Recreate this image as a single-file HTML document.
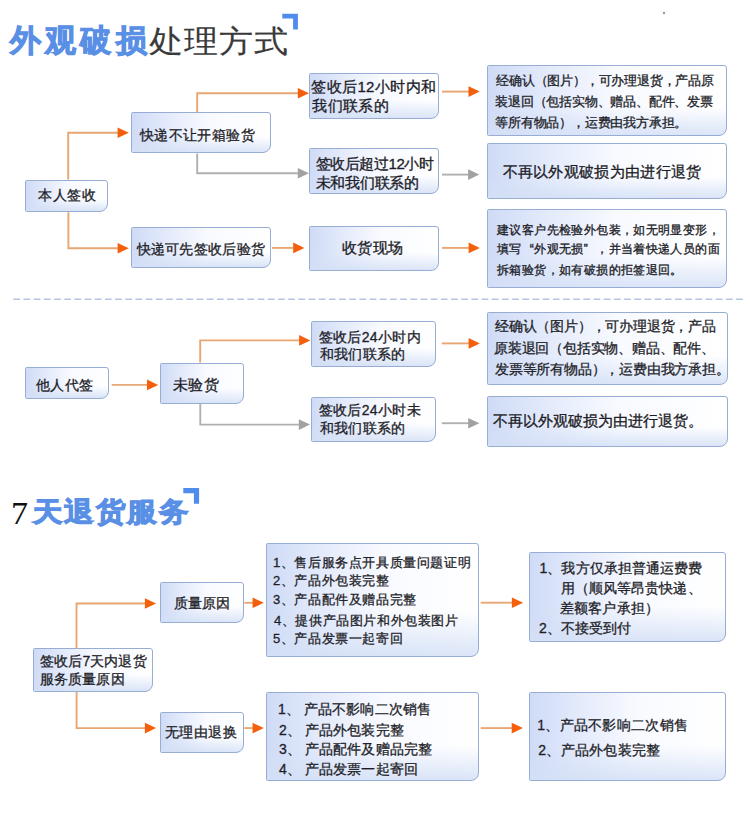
<!DOCTYPE html>
<html><head><meta charset="utf-8"><style>
html,body{margin:0;padding:0;background:#fff;}
body{width:750px;height:814px;position:relative;overflow:hidden;font-family:"Liberation Sans",sans-serif;color:#1e1e28;}
.b{position:absolute;box-sizing:border-box;border:1.6px solid #97add4;border-radius:1.5px 3px 8px 1.5px;
background:linear-gradient(180deg,rgba(255,255,255,0) 0%,rgba(255,255,255,0) 60%,rgba(212,224,246,.85) 100%),linear-gradient(90deg,#cfdbf6 0%,#e3eafb 25%,#f8faff 55%,#ffffff 100%);}
.t{position:absolute;white-space:nowrap;line-height:20px;height:20px;-webkit-text-stroke:0.45px #1e1e28;}
.c{display:inline-block;}
.h{position:absolute;white-space:nowrap;line-height:40px;height:40px;font-size:34px;}
.bl{color:#5a8fe6;font-weight:bold;-webkit-text-stroke:1.05px #5a8fe6;}
.dk{color:#3a3a3a;-webkit-text-stroke:0.15px #3a3a3a;}
svg{position:absolute;left:0;top:0;}
</style></head><body>
<div class="h bl" style="left:9.7px;top:21px;font-size:31px;letter-spacing:4.3px;line-height:40px;"><span class="c" style="width:35.3px">外</span><span class="c" style="width:35.3px">观</span><span class="c" style="width:35.3px">破</span><span class="c" style="width:35.3px">损</span></div>
<div class="h dk" style="left:149px;top:22px;font-size:31px;letter-spacing:4px;line-height:40px;"><span class="c" style="transform:scaleX(1.1);transform-origin:0 0;width:35px">处</span><span class="c" style="transform:scaleX(1.1);transform-origin:0 0;width:35px">理</span><span class="c" style="transform:scaleX(1.1);transform-origin:0 0;width:35px">方</span><span class="c" style="transform:scaleX(1.1);transform-origin:0 0;width:35px">式</span></div>
<div class="h" style="left:11.3px;top:493.75px;font-family:'Liberation Serif',serif;color:#111;font-size:31px;line-height:40px;transform:scaleX(1.1);transform-origin:0 0;">7</div>
<div class="h bl" style="left:32.9px;top:492px;font-size:27px;letter-spacing:4.5px;-webkit-text-stroke-width:1.1px;line-height:40px;"><span class="c" style="transform:scaleX(1.09);transform-origin:0 0;width:31.5px">天</span><span class="c" style="transform:scaleX(1.09);transform-origin:0 0;width:31.5px">退</span><span class="c" style="transform:scaleX(1.09);transform-origin:0 0;width:31.5px">货</span><span class="c" style="transform:scaleX(1.09);transform-origin:0 0;width:31.5px">服</span><span class="c" style="transform:scaleX(1.09);transform-origin:0 0;width:31.5px">务</span></div>
<div class="b" style="left:25.4px;top:179.5px;width:83px;height:32.7px;"></div>
<div class="b" style="left:130.6px;top:112.3px;width:140px;height:41.1px;"></div>
<div class="b" style="left:308.8px;top:73.1px;width:130px;height:46.4px;"></div>
<div class="b" style="left:309.2px;top:148px;width:129.8px;height:46px;"></div>
<div class="b" style="left:486.8px;top:65.1px;width:240.6px;height:70.9px;"></div>
<div class="b" style="left:486.8px;top:143.2px;width:240.6px;height:55.4px;"></div>
<div class="b" style="left:130.7px;top:227.3px;width:140px;height:40.8px;"></div>
<div class="b" style="left:309.2px;top:225.5px;width:129.4px;height:45.8px;"></div>
<div class="b" style="left:486.8px;top:209.4px;width:240.6px;height:78.9px;"></div>
<div class="b" style="left:25.2px;top:367.2px;width:83.4px;height:32px;"></div>
<div class="b" style="left:159.5px;top:362.6px;width:84.2px;height:41.2px;"></div>
<div class="b" style="left:311.3px;top:321.1px;width:124.7px;height:45.9px;"></div>
<div class="b" style="left:311.3px;top:396.5px;width:124.7px;height:45.8px;"></div>
<div class="b" style="left:486.8px;top:312.3px;width:240.8px;height:72.8px;"></div>
<div class="b" style="left:486.8px;top:396px;width:240.8px;height:50.7px;"></div>
<div class="b" style="left:33.2px;top:648.4px;width:119.5px;height:43.4px;"></div>
<div class="b" style="left:159.6px;top:582px;width:84px;height:41.3px;"></div>
<div class="b" style="left:266.4px;top:542.7px;width:213px;height:114px;"></div>
<div class="b" style="left:159.6px;top:712.1px;width:84px;height:40.8px;"></div>
<div class="b" style="left:266.4px;top:692.3px;width:213px;height:88.4px;"></div>
<div class="b" style="left:529.4px;top:551.9px;width:197.1px;height:89.7px;"></div>
<div class="b" style="left:529.4px;top:691.6px;width:197.1px;height:89.2px;"></div>
<div class="t" style="left:38px;top:185.1px;font-size:14px;letter-spacing:0.5px;-webkit-text-stroke-width:0.3px"><span class="c" style="width:14.5px">本</span><span class="c" style="width:14.5px">人</span><span class="c" style="width:14.5px">签</span><span class="c" style="width:14.5px">收</span></div>
<div class="t" style="left:139.9px;top:124.6px;font-size:14px;letter-spacing:0.4px;-webkit-text-stroke-width:0.3px"><span class="c" style="width:14.4px">快</span><span class="c" style="width:14.4px">递</span><span class="c" style="width:14.4px">不</span><span class="c" style="width:14.4px">让</span><span class="c" style="width:14.4px">开</span><span class="c" style="width:14.4px">箱</span><span class="c" style="width:14.4px">验</span><span class="c" style="width:14.4px">货</span></div>
<div class="t" style="left:311.4px;top:77.1px;font-size:15px;letter-spacing:0.35px;-webkit-text-stroke-width:0.32px"><span class="c" style="width:15.35px">签</span><span class="c" style="width:15.35px">收</span><span class="c" style="width:15.35px">后</span>12<span class="c" style="width:15.35px">小</span><span class="c" style="width:15.35px">时</span><span class="c" style="width:15.35px">内</span><span class="c" style="width:15.35px">和</span></div>
<div class="t" style="left:312.4px;top:95.8px;font-size:15px;letter-spacing:0.35px;-webkit-text-stroke-width:0.32px"><span class="c" style="width:15.35px">我</span><span class="c" style="width:15.35px">们</span><span class="c" style="width:15.35px">联</span><span class="c" style="width:15.35px">系</span><span class="c" style="width:15.35px">的</span></div>
<div class="t" style="left:315.6px;top:153.95px;font-size:15px;letter-spacing:-0.4px;-webkit-text-stroke-width:0.32px"><span class="c" style="width:14.6px">签</span><span class="c" style="width:14.6px">收</span><span class="c" style="width:14.6px">后</span><span class="c" style="width:14.6px">超</span><span class="c" style="width:14.6px">过</span>12<span class="c" style="width:14.6px">小</span><span class="c" style="width:14.6px">时</span></div>
<div class="t" style="left:315.6px;top:172.95px;font-size:15px;letter-spacing:-0.25px;-webkit-text-stroke-width:0.32px"><span class="c" style="width:14.75px">未</span><span class="c" style="width:14.75px">和</span><span class="c" style="width:14.75px">我</span><span class="c" style="width:14.75px">们</span><span class="c" style="width:14.75px">联</span><span class="c" style="width:14.75px">系</span><span class="c" style="width:14.75px">的</span></div>
<div class="t" style="left:496.2px;top:70.95px;font-size:13px;letter-spacing:-0.2px;-webkit-text-stroke-width:0.3px"><span class="c" style="width:12.8px">经</span><span class="c" style="width:12.8px">确</span><span class="c" style="width:12.8px">认</span><span class="c" style="width:12.8px">（</span><span class="c" style="width:12.8px">图</span><span class="c" style="width:12.8px">片</span><span class="c" style="width:12.8px">）</span><span class="c" style="width:12.8px">，</span><span class="c" style="width:12.8px">可</span><span class="c" style="width:12.8px">办</span><span class="c" style="width:12.8px">理</span><span class="c" style="width:12.8px">退</span><span class="c" style="width:12.8px">货</span><span class="c" style="width:12.8px">，</span><span class="c" style="width:12.8px">产</span><span class="c" style="width:12.8px">品</span><span class="c" style="width:12.8px">原</span></div>
<div class="t" style="left:495.2px;top:91.6px;font-size:13px;letter-spacing:-0.2px;-webkit-text-stroke-width:0.3px"><span class="c" style="width:12.8px">装</span><span class="c" style="width:12.8px">退</span><span class="c" style="width:12.8px">回</span><span class="c" style="width:12.8px">（</span><span class="c" style="width:12.8px">包</span><span class="c" style="width:12.8px">括</span><span class="c" style="width:12.8px">实</span><span class="c" style="width:12.8px">物</span><span class="c" style="width:12.8px">、</span><span class="c" style="width:12.8px">赠</span><span class="c" style="width:12.8px">品</span><span class="c" style="width:12.8px">、</span><span class="c" style="width:12.8px">配</span><span class="c" style="width:12.8px">件</span><span class="c" style="width:12.8px">、</span><span class="c" style="width:12.8px">发</span><span class="c" style="width:12.8px">票</span></div>
<div class="t" style="left:495.2px;top:113.2px;font-size:13px;letter-spacing:-0.2px;-webkit-text-stroke-width:0.3px"><span class="c" style="width:12.8px">等</span><span class="c" style="width:12.8px">所</span><span class="c" style="width:12.8px">有</span><span class="c" style="width:12.8px">物</span><span class="c" style="width:12.8px">品</span><span class="c" style="width:12.8px">）</span><span class="c" style="width:12.8px">，</span><span class="c" style="width:12.8px">运</span><span class="c" style="width:12.8px">费</span><span class="c" style="width:12.8px">由</span><span class="c" style="width:12.8px">我</span><span class="c" style="width:12.8px">方</span><span class="c" style="width:12.8px">承</span><span class="c" style="width:12.8px">担</span><span class="c" style="width:12.8px">。</span></div>
<div class="t" style="left:502.6px;top:162.4px;font-size:15px;letter-spacing:0.3px;-webkit-text-stroke-width:0.32px"><span class="c" style="width:15.3px">不</span><span class="c" style="width:15.3px">再</span><span class="c" style="width:15.3px">以</span><span class="c" style="width:15.3px">外</span><span class="c" style="width:15.3px">观</span><span class="c" style="width:15.3px">破</span><span class="c" style="width:15.3px">损</span><span class="c" style="width:15.3px">为</span><span class="c" style="width:15.3px">由</span><span class="c" style="width:15.3px">进</span><span class="c" style="width:15.3px">行</span><span class="c" style="width:15.3px">退</span><span class="c" style="width:15.3px">货</span></div>
<div class="t" style="left:136.5px;top:238.55px;font-size:14px;letter-spacing:0.3px;-webkit-text-stroke-width:0.3px"><span class="c" style="width:14.3px">快</span><span class="c" style="width:14.3px">递</span><span class="c" style="width:14.3px">可</span><span class="c" style="width:14.3px">先</span><span class="c" style="width:14.3px">签</span><span class="c" style="width:14.3px">收</span><span class="c" style="width:14.3px">后</span><span class="c" style="width:14.3px">验</span><span class="c" style="width:14.3px">货</span></div>
<div class="t" style="left:342.2px;top:237.6px;font-size:15px;letter-spacing:0.3px;-webkit-text-stroke-width:0.32px"><span class="c" style="width:15.3px">收</span><span class="c" style="width:15.3px">货</span><span class="c" style="width:15.3px">现</span><span class="c" style="width:15.3px">场</span></div>
<div class="t" style="left:497px;top:220px;font-size:12px;letter-spacing:0.4px;-webkit-text-stroke-width:0.32px"><span class="c" style="width:12.4px">建</span><span class="c" style="width:12.4px">议</span><span class="c" style="width:12.4px">客</span><span class="c" style="width:12.4px">户</span><span class="c" style="width:12.4px">先</span><span class="c" style="width:12.4px">检</span><span class="c" style="width:12.4px">验</span><span class="c" style="width:12.4px">外</span><span class="c" style="width:12.4px">包</span><span class="c" style="width:12.4px">装</span><span class="c" style="width:12.4px">，</span><span class="c" style="width:12.4px">如</span><span class="c" style="width:12.4px">无</span><span class="c" style="width:12.4px">明</span><span class="c" style="width:12.4px">显</span><span class="c" style="width:12.4px">变</span><span class="c" style="width:12.4px">形</span><span class="c" style="width:12.4px">，</span></div>
<div class="t" style="left:497px;top:239.4px;font-size:12px;letter-spacing:0.4px;-webkit-text-stroke-width:0.32px"><span class="c" style="width:12.4px">填</span><span class="c" style="width:12.4px">写</span><span class="c" style="width:12.4px;text-align:right">“</span><span class="c" style="width:12.4px">外</span><span class="c" style="width:12.4px">观</span><span class="c" style="width:12.4px">无</span><span class="c" style="width:12.4px">损</span><span class="c" style="width:12.4px">”</span><span class="c" style="width:12.4px">，</span><span class="c" style="width:12.4px">并</span><span class="c" style="width:12.4px">当</span><span class="c" style="width:12.4px">着</span><span class="c" style="width:12.4px">快</span><span class="c" style="width:12.4px">递</span><span class="c" style="width:12.4px">人</span><span class="c" style="width:12.4px">员</span><span class="c" style="width:12.4px">的</span><span class="c" style="width:12.4px">面</span></div>
<div class="t" style="left:497px;top:260px;font-size:12px;letter-spacing:0.4px;-webkit-text-stroke-width:0.32px"><span class="c" style="width:12.4px">拆</span><span class="c" style="width:12.4px">箱</span><span class="c" style="width:12.4px">验</span><span class="c" style="width:12.4px">货</span><span class="c" style="width:12.4px">，</span><span class="c" style="width:12.4px">如</span><span class="c" style="width:12.4px">有</span><span class="c" style="width:12.4px">破</span><span class="c" style="width:12.4px">损</span><span class="c" style="width:12.4px">的</span><span class="c" style="width:12.4px">拒</span><span class="c" style="width:12.4px">签</span><span class="c" style="width:12.4px">退</span><span class="c" style="width:12.4px">回</span><span class="c" style="width:12.4px">。</span></div>
<div class="t" style="left:36px;top:374.85px;font-size:14px;letter-spacing:0.4px;-webkit-text-stroke-width:0.3px"><span class="c" style="width:14.4px">他</span><span class="c" style="width:14.4px">人</span><span class="c" style="width:14.4px">代</span><span class="c" style="width:14.4px">签</span></div>
<div class="t" style="left:173.3px;top:374.75px;font-size:15px;letter-spacing:0.2px;-webkit-text-stroke-width:0.32px"><span class="c" style="width:15.2px">未</span><span class="c" style="width:15.2px">验</span><span class="c" style="width:15.2px">货</span></div>
<div class="t" style="left:318.5px;top:327.2px;font-size:14px;letter-spacing:0.4px;-webkit-text-stroke-width:0.3px"><span class="c" style="width:14.4px">签</span><span class="c" style="width:14.4px">收</span><span class="c" style="width:14.4px">后</span>24<span class="c" style="width:14.4px">小</span><span class="c" style="width:14.4px">时</span><span class="c" style="width:14.4px">内</span></div>
<div class="t" style="left:319.5px;top:344.15px;font-size:14px;letter-spacing:0.4px;-webkit-text-stroke-width:0.3px"><span class="c" style="width:14.4px">和</span><span class="c" style="width:14.4px">我</span><span class="c" style="width:14.4px">们</span><span class="c" style="width:14.4px">联</span><span class="c" style="width:14.4px">系</span><span class="c" style="width:14.4px">的</span></div>
<div class="t" style="left:318.5px;top:400px;font-size:14px;letter-spacing:0.4px;-webkit-text-stroke-width:0.3px"><span class="c" style="width:14.4px">签</span><span class="c" style="width:14.4px">收</span><span class="c" style="width:14.4px">后</span>24<span class="c" style="width:14.4px">小</span><span class="c" style="width:14.4px">时</span><span class="c" style="width:14.4px">未</span></div>
<div class="t" style="left:319.5px;top:418.1px;font-size:14px;letter-spacing:0.4px;-webkit-text-stroke-width:0.3px"><span class="c" style="width:14.4px">和</span><span class="c" style="width:14.4px">我</span><span class="c" style="width:14.4px">们</span><span class="c" style="width:14.4px">联</span><span class="c" style="width:14.4px">系</span><span class="c" style="width:14.4px">的</span></div>
<div class="t" style="left:495px;top:316px;font-size:14px;letter-spacing:-0.2px;-webkit-text-stroke-width:0.3px"><span class="c" style="width:13.8px">经</span><span class="c" style="width:13.8px">确</span><span class="c" style="width:13.8px">认</span><span class="c" style="width:13.8px">（</span><span class="c" style="width:13.8px">图</span><span class="c" style="width:13.8px">片</span><span class="c" style="width:13.8px">）</span><span class="c" style="width:13.8px">，</span><span class="c" style="width:13.8px">可</span><span class="c" style="width:13.8px">办</span><span class="c" style="width:13.8px">理</span><span class="c" style="width:13.8px">退</span><span class="c" style="width:13.8px">货</span><span class="c" style="width:13.8px">，</span><span class="c" style="width:13.8px">产</span><span class="c" style="width:13.8px">品</span></div>
<div class="t" style="left:494px;top:338.2px;font-size:14px;letter-spacing:-0.2px;-webkit-text-stroke-width:0.3px"><span class="c" style="width:13.8px">原</span><span class="c" style="width:13.8px">装</span><span class="c" style="width:13.8px">退</span><span class="c" style="width:13.8px">回</span><span class="c" style="width:13.8px">（</span><span class="c" style="width:13.8px">包</span><span class="c" style="width:13.8px">括</span><span class="c" style="width:13.8px">实</span><span class="c" style="width:13.8px">物</span><span class="c" style="width:13.8px">、</span><span class="c" style="width:13.8px">赠</span><span class="c" style="width:13.8px">品</span><span class="c" style="width:13.8px">、</span><span class="c" style="width:13.8px">配</span><span class="c" style="width:13.8px">件</span><span class="c" style="width:13.8px">、</span></div>
<div class="t" style="left:495px;top:359.2px;font-size:14px;letter-spacing:-0.2px;-webkit-text-stroke-width:0.3px"><span class="c" style="width:13.8px">发</span><span class="c" style="width:13.8px">票</span><span class="c" style="width:13.8px">等</span><span class="c" style="width:13.8px">所</span><span class="c" style="width:13.8px">有</span><span class="c" style="width:13.8px">物</span><span class="c" style="width:13.8px">品</span><span class="c" style="width:13.8px">）</span><span class="c" style="width:13.8px">，</span><span class="c" style="width:13.8px">运</span><span class="c" style="width:13.8px">费</span><span class="c" style="width:13.8px">由</span><span class="c" style="width:13.8px">我</span><span class="c" style="width:13.8px">方</span><span class="c" style="width:13.8px">承</span><span class="c" style="width:13.8px">担</span><span class="c" style="width:13.8px">。</span></div>
<div class="t" style="left:493.4px;top:410.9px;font-size:15px;letter-spacing:0px;-webkit-text-stroke-width:0.32px"><span class="c" style="width:15px">不</span><span class="c" style="width:15px">再</span><span class="c" style="width:15px">以</span><span class="c" style="width:15px">外</span><span class="c" style="width:15px">观</span><span class="c" style="width:15px">破</span><span class="c" style="width:15px">损</span><span class="c" style="width:15px">为</span><span class="c" style="width:15px">由</span><span class="c" style="width:15px">进</span><span class="c" style="width:15px">行</span><span class="c" style="width:15px">退</span><span class="c" style="width:15px">货</span><span class="c" style="width:15px">。</span></div>
<div class="t" style="left:40.1px;top:650.55px;font-size:14px;letter-spacing:0.1px;-webkit-text-stroke-width:0.3px"><span class="c" style="width:14.1px">签</span><span class="c" style="width:14.1px">收</span><span class="c" style="width:14.1px">后</span>7<span class="c" style="width:14.1px">天</span><span class="c" style="width:14.1px">内</span><span class="c" style="width:14.1px">退</span><span class="c" style="width:14.1px">货</span></div>
<div class="t" style="left:40.1px;top:669.15px;font-size:14px;letter-spacing:0.1px;-webkit-text-stroke-width:0.3px"><span class="c" style="width:14.1px">服</span><span class="c" style="width:14.1px">务</span><span class="c" style="width:14.1px">质</span><span class="c" style="width:14.1px">量</span><span class="c" style="width:14.1px">原</span><span class="c" style="width:14.1px">因</span></div>
<div class="t" style="left:173.6px;top:592.7px;font-size:14px;letter-spacing:0.2px;-webkit-text-stroke-width:0.3px"><span class="c" style="width:14.2px">质</span><span class="c" style="width:14.2px">量</span><span class="c" style="width:14.2px">原</span><span class="c" style="width:14.2px">因</span></div>
<div class="t" style="left:164.6px;top:722.2px;font-size:14px;letter-spacing:0.6px;-webkit-text-stroke-width:0.3px"><span class="c" style="width:14.6px">无</span><span class="c" style="width:14.6px">理</span><span class="c" style="width:14.6px">由</span><span class="c" style="width:14.6px">退</span><span class="c" style="width:14.6px">换</span></div>
<div class="t" style="left:273px;top:553.4px;font-size:13px;letter-spacing:0.6px;-webkit-text-stroke-width:0.3px">1<span class="c" style="width:13.6px">、</span><span class="c" style="width:13.6px">售</span><span class="c" style="width:13.6px">后</span><span class="c" style="width:13.6px">服</span><span class="c" style="width:13.6px">务</span><span class="c" style="width:13.6px">点</span><span class="c" style="width:13.6px">开</span><span class="c" style="width:13.6px">具</span><span class="c" style="width:13.6px">质</span><span class="c" style="width:13.6px">量</span><span class="c" style="width:13.6px">问</span><span class="c" style="width:13.6px">题</span><span class="c" style="width:13.6px">证</span><span class="c" style="width:13.6px">明</span></div>
<div class="t" style="left:273px;top:571.3px;font-size:13px;letter-spacing:0.6px;-webkit-text-stroke-width:0.3px">2<span class="c" style="width:13.6px">、</span><span class="c" style="width:13.6px">产</span><span class="c" style="width:13.6px">品</span><span class="c" style="width:13.6px">外</span><span class="c" style="width:13.6px">包</span><span class="c" style="width:13.6px">装</span><span class="c" style="width:13.6px">完</span><span class="c" style="width:13.6px">整</span></div>
<div class="t" style="left:273px;top:590.4px;font-size:13px;letter-spacing:0.6px;-webkit-text-stroke-width:0.3px">3<span class="c" style="width:13.6px">、</span><span class="c" style="width:13.6px">产</span><span class="c" style="width:13.6px">品</span><span class="c" style="width:13.6px">配</span><span class="c" style="width:13.6px">件</span><span class="c" style="width:13.6px">及</span><span class="c" style="width:13.6px">赠</span><span class="c" style="width:13.6px">品</span><span class="c" style="width:13.6px">完</span><span class="c" style="width:13.6px">整</span></div>
<div class="t" style="left:274px;top:610.7px;font-size:13px;letter-spacing:0.6px;-webkit-text-stroke-width:0.3px">4<span class="c" style="width:13.6px">、</span><span class="c" style="width:13.6px">提</span><span class="c" style="width:13.6px">供</span><span class="c" style="width:13.6px">产</span><span class="c" style="width:13.6px">品</span><span class="c" style="width:13.6px">图</span><span class="c" style="width:13.6px">片</span><span class="c" style="width:13.6px">和</span><span class="c" style="width:13.6px">外</span><span class="c" style="width:13.6px">包</span><span class="c" style="width:13.6px">装</span><span class="c" style="width:13.6px">图</span><span class="c" style="width:13.6px">片</span></div>
<div class="t" style="left:273px;top:629.45px;font-size:13px;letter-spacing:0.6px;-webkit-text-stroke-width:0.3px">5<span class="c" style="width:13.6px">、</span><span class="c" style="width:13.6px">产</span><span class="c" style="width:13.6px">品</span><span class="c" style="width:13.6px">发</span><span class="c" style="width:13.6px">票</span><span class="c" style="width:13.6px">一</span><span class="c" style="width:13.6px">起</span><span class="c" style="width:13.6px">寄</span><span class="c" style="width:13.6px">回</span></div>
<div class="t" style="left:278.1px;top:699px;font-size:14px;letter-spacing:0.1px;-webkit-text-stroke-width:0.3px">1<span class="c" style="width:14.1px">、</span> <span class="c" style="width:14.1px">产</span><span class="c" style="width:14.1px">品</span><span class="c" style="width:14.1px">不</span><span class="c" style="width:14.1px">影</span><span class="c" style="width:14.1px">响</span><span class="c" style="width:14.1px">二</span><span class="c" style="width:14.1px">次</span><span class="c" style="width:14.1px">销</span><span class="c" style="width:14.1px">售</span></div>
<div class="t" style="left:279.1px;top:720.1px;font-size:14px;letter-spacing:0.1px;-webkit-text-stroke-width:0.3px">2<span class="c" style="width:14.1px">、</span> <span class="c" style="width:14.1px">产</span><span class="c" style="width:14.1px">品</span><span class="c" style="width:14.1px">外</span><span class="c" style="width:14.1px">包</span><span class="c" style="width:14.1px">装</span><span class="c" style="width:14.1px">完</span><span class="c" style="width:14.1px">整</span></div>
<div class="t" style="left:279.1px;top:739.25px;font-size:14px;letter-spacing:0.1px;-webkit-text-stroke-width:0.3px">3<span class="c" style="width:14.1px">、</span> <span class="c" style="width:14.1px">产</span><span class="c" style="width:14.1px">品</span><span class="c" style="width:14.1px">配</span><span class="c" style="width:14.1px">件</span><span class="c" style="width:14.1px">及</span><span class="c" style="width:14.1px">赠</span><span class="c" style="width:14.1px">品</span><span class="c" style="width:14.1px">完</span><span class="c" style="width:14.1px">整</span></div>
<div class="t" style="left:279.1px;top:758.9px;font-size:14px;letter-spacing:0.1px;-webkit-text-stroke-width:0.3px">4<span class="c" style="width:14.1px">、</span> <span class="c" style="width:14.1px">产</span><span class="c" style="width:14.1px">品</span><span class="c" style="width:14.1px">发</span><span class="c" style="width:14.1px">票</span><span class="c" style="width:14.1px">一</span><span class="c" style="width:14.1px">起</span><span class="c" style="width:14.1px">寄</span><span class="c" style="width:14.1px">回</span></div>
<div class="t" style="left:539.5px;top:558.15px;font-size:14px;letter-spacing:0.1px;-webkit-text-stroke-width:0.3px">1<span class="c" style="width:14.1px">、</span><span class="c" style="width:14.1px">我</span><span class="c" style="width:14.1px">方</span><span class="c" style="width:14.1px">仅</span><span class="c" style="width:14.1px">承</span><span class="c" style="width:14.1px">担</span><span class="c" style="width:14.1px">普</span><span class="c" style="width:14.1px">通</span><span class="c" style="width:14.1px">运</span><span class="c" style="width:14.1px">费</span><span class="c" style="width:14.1px">费</span></div>
<div class="t" style="left:560.7px;top:578.3px;font-size:14px;letter-spacing:0.1px;-webkit-text-stroke-width:0.3px"><span class="c" style="width:14.1px">用</span><span class="c" style="width:14.1px">（</span><span class="c" style="width:14.1px">顺</span><span class="c" style="width:14.1px">风</span><span class="c" style="width:14.1px">等</span><span class="c" style="width:14.1px">昂</span><span class="c" style="width:14.1px">贵</span><span class="c" style="width:14.1px">快</span><span class="c" style="width:14.1px">递</span><span class="c" style="width:14.1px">、</span></div>
<div class="t" style="left:560.2px;top:597.9px;font-size:14px;letter-spacing:0.1px;-webkit-text-stroke-width:0.3px"><span class="c" style="width:14.1px">差</span><span class="c" style="width:14.1px">额</span><span class="c" style="width:14.1px">客</span><span class="c" style="width:14.1px">户</span><span class="c" style="width:14.1px">承</span><span class="c" style="width:14.1px">担</span><span class="c" style="width:14.1px">）</span></div>
<div class="t" style="left:539px;top:618.45px;font-size:14px;letter-spacing:0.1px;-webkit-text-stroke-width:0.3px">2<span class="c" style="width:14.1px">、</span><span class="c" style="width:14.1px">不</span><span class="c" style="width:14.1px">接</span><span class="c" style="width:14.1px">受</span><span class="c" style="width:14.1px">到</span><span class="c" style="width:14.1px">付</span></div>
<div class="t" style="left:537.2px;top:714.75px;font-size:14px;letter-spacing:0.3px;-webkit-text-stroke-width:0.3px">1<span class="c" style="width:14.3px">、</span><span class="c" style="width:14.3px">产</span><span class="c" style="width:14.3px">品</span><span class="c" style="width:14.3px">不</span><span class="c" style="width:14.3px">影</span><span class="c" style="width:14.3px">响</span><span class="c" style="width:14.3px">二</span><span class="c" style="width:14.3px">次</span><span class="c" style="width:14.3px">销</span><span class="c" style="width:14.3px">售</span></div>
<div class="t" style="left:538.2px;top:739.6px;font-size:14px;letter-spacing:0.3px;-webkit-text-stroke-width:0.3px">2<span class="c" style="width:14.3px">、</span><span class="c" style="width:14.3px">产</span><span class="c" style="width:14.3px">品</span><span class="c" style="width:14.3px">外</span><span class="c" style="width:14.3px">包</span><span class="c" style="width:14.3px">装</span><span class="c" style="width:14.3px">完</span><span class="c" style="width:14.3px">整</span></div>
<svg width="750" height="814" viewBox="0 0 750 814">
<path d="M282.3 16.1 H295.5 V29.5" fill="none" stroke="#508cec" stroke-width="4.8"/>
<path d="M183.3 490.6 H196.5 V503.7" fill="none" stroke="#508cec" stroke-width="5.2"/>
<line x1="13.3" y1="299.2" x2="743" y2="299.2" stroke="#b6c6e2" stroke-width="1.5" stroke-dasharray="6.8 3.38"/>
<circle cx="664" cy="13" r="1.2" fill="#999"/>
<path d="M68.2 179.5 L68.2 132.8 L119 132.8" fill="none" stroke="#e8a672" stroke-width="1.9"/>
<path d="M117.6 127.5 L128.8 132.8 L117.6 138.1 Z" fill="#f45f0c"/>
<path d="M68.4 212.2 L68.4 248.3 L119 248.3" fill="none" stroke="#e8a672" stroke-width="1.9"/>
<path d="M117.6 243 L128.8 248.3 L117.6 253.6 Z" fill="#f45f0c"/>
<path d="M197.2 112.3 L197.2 93.2 L299 93.2" fill="none" stroke="#e8a672" stroke-width="1.9"/>
<path d="M297.8 87.9 L309 93.2 L297.8 98.5 Z" fill="#f45f0c"/>
<path d="M197.2 153.4 L197.2 173.2 L299 173.2" fill="none" stroke="#b0b0b0" stroke-width="1.9"/>
<path d="M297.8 167.9 L309 173.2 L297.8 178.5 Z" fill="#a2a2a2"/>
<path d="M442 91.6 L469 91.6" fill="none" stroke="#e8a672" stroke-width="1.9"/>
<path d="M468.5 86.3 L479.7 91.6 L468.5 96.9 Z" fill="#f45f0c"/>
<path d="M442 174.6 L469 174.6" fill="none" stroke="#b0b0b0" stroke-width="1.9"/>
<path d="M468.1 169.3 L479.3 174.6 L468.1 179.9 Z" fill="#a2a2a2"/>
<path d="M272 247.9 L294 247.9" fill="none" stroke="#e8a672" stroke-width="1.9"/>
<path d="M293.2 242.6 L304.4 247.9 L293.2 253.2 Z" fill="#f45f0c"/>
<path d="M442 247.9 L469 247.9" fill="none" stroke="#e8a672" stroke-width="1.9"/>
<path d="M468.6 242.6 L479.8 247.9 L468.6 253.2 Z" fill="#f45f0c"/>
<path d="M111.7 384.9 L148 384.9" fill="none" stroke="#e8a672" stroke-width="1.9"/>
<path d="M147 379.6 L158.2 384.9 L147 390.2 Z" fill="#f45f0c"/>
<path d="M200.2 362.6 L200.2 340.4 L300 340.4" fill="none" stroke="#e8a672" stroke-width="1.9"/>
<path d="M299.1 335.1 L310.3 340.4 L299.1 345.7 Z" fill="#f45f0c"/>
<path d="M200.3 403.8 L200.3 424.6 L300 424.6" fill="none" stroke="#b0b0b0" stroke-width="1.9"/>
<path d="M298.8 419.3 L310 424.6 L298.8 429.9 Z" fill="#a2a2a2"/>
<path d="M441.8 343.4 L469 343.4" fill="none" stroke="#e8a672" stroke-width="1.9"/>
<path d="M468.6 338.1 L479.8 343.4 L468.6 348.7 Z" fill="#f45f0c"/>
<path d="M441.8 423.2 L469 423.2" fill="none" stroke="#b0b0b0" stroke-width="1.9"/>
<path d="M468.2 417.9 L479.4 423.2 L468.2 428.5 Z" fill="#a2a2a2"/>
<path d="M76.5 648.4 L76.5 603.5 L145.5 603.5" fill="none" stroke="#e8a672" stroke-width="1.9"/>
<path d="M144.9 598.2 L156.1 603.5 L144.9 608.8 Z" fill="#f45f0c"/>
<path d="M76.6 691.8 L76.6 728.1 L145.5 728.1" fill="none" stroke="#e8a672" stroke-width="1.9"/>
<path d="M144.9 722.8 L156.1 728.1 L144.9 733.4 Z" fill="#f45f0c"/>
<path d="M244.3 602.8 L253 602.8" fill="none" stroke="#e8a672" stroke-width="1.9"/>
<path d="M252.6 597.5 L263.8 602.8 L252.6 608.1 Z" fill="#f45f0c"/>
<path d="M244.3 728.1 L253 728.1" fill="none" stroke="#e8a672" stroke-width="1.9"/>
<path d="M252.6 722.8 L263.8 728.1 L252.6 733.4 Z" fill="#f45f0c"/>
<path d="M480.7 602.7 L512 602.7" fill="none" stroke="#e8a672" stroke-width="1.9"/>
<path d="M511.9 597.4 L523.1 602.7 L511.9 608 Z" fill="#f45f0c"/>
<path d="M480.7 728.1 L512 728.1" fill="none" stroke="#e8a672" stroke-width="1.9"/>
<path d="M511.7 722.8 L522.9 728.1 L511.7 733.4 Z" fill="#f45f0c"/>
</svg>
</body></html>
